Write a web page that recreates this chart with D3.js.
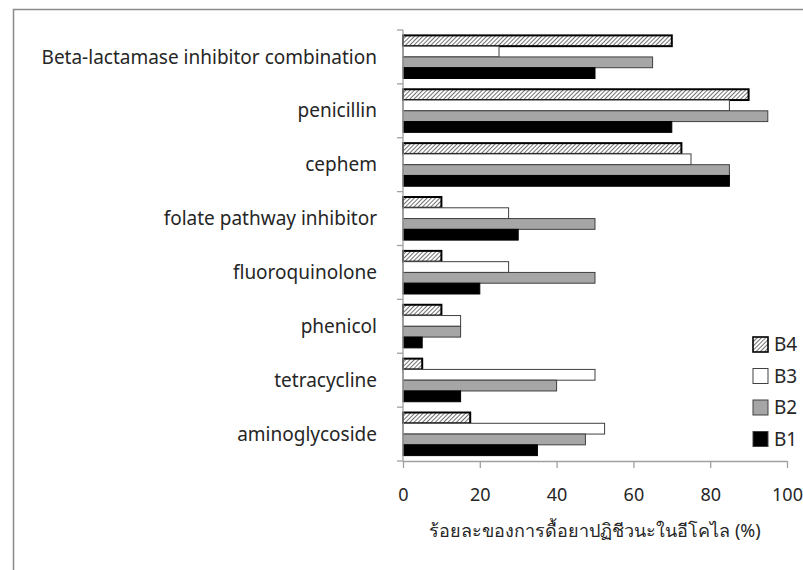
<!DOCTYPE html>
<html>
<head>
<meta charset="utf-8">
<script src="https://cdn.jsdelivr.net/npm/d3@7"></script>
<style>
  body { margin: 0; background: #fff; }
  text { font-family: "Noto Sans", "Open Sans", sans-serif; fill: #262626; }
</style>
</head>
<body>
<div id="chart"></div>
<script>
// categories top -> bottom
const categories = [
  "Beta-lactamase inhibitor combination",
  "penicillin",
  "cephem",
  "folate pathway inhibitor",
  "fluoroquinolone",
  "phenicol",
  "tetracycline",
  "aminoglycoside"
];
// series, drawn top -> bottom inside each group
const seriesNames = ["B4", "B3", "B2", "B1"];
const b4 = [70, 90, 72.5, 10, 10, 10, 5, 17.5];
const b3 = [25, 85, 75, 27.5, 27.5, 15, 50, 52.5];
const b2 = [65, 95, 85, 50, 50, 15, 40, 47.5];
const b1 = [50, 70, 85, 30, 20, 5, 15, 35];
const xTicks = [0, 20, 40, 60, 80, 100];
const xTitle = "ร้อยละของการดื้อยาปฏิชีวนะในอีโคไล (%)";

const seriesValues = { B4: b4, B3: b3, B2: b2, B1: b1 };
const fills = { B4: "url(#hatch)", B3: "#ffffff", B2: "#a6a6a6", B1: "#000000" };
const strokes = { B4: "#000", B3: "#404040", B2: "#404040", B1: "#000" };
const strokeW = { B4: 2, B3: 1, B2: 1, B1: 1 };

const W = 803, H = 570;
const plot = { left: 403, right: 787, top: 30, bottom: 461 };
const axisGrey = "#a0a0a0";

const svg = d3.select("#chart").append("svg")
  .attr("width", W)
  .attr("height", H);

const defs = svg.append("defs");
const pat = defs.append("pattern")
  .attr("id", "hatch")
  .attr("patternUnits", "userSpaceOnUse")
  .attr("width", 3)
  .attr("height", 3)
  .attr("patternTransform", "rotate(45)");
pat.append("rect").attr("width", 3).attr("height", 3).attr("fill", "#fff");
pat.append("line")
  .attr("x1", 0).attr("y1", 0).attr("x2", 0).attr("y2", 3)
  .attr("stroke", "#333").attr("stroke-width", 1.4);

// frame (only top + left visible in the crop)
svg.append("path")
  .attr("d", `M13.5,${H} V9.5 H${W}`)
  .attr("fill", "none")
  .attr("stroke", "#8a8a8a")
  .attr("stroke-width", 1.5);

const x = d3.scaleLinear().domain([0, 100]).range([plot.left, plot.right]);
const y = d3.scaleBand().domain(categories).range([plot.top, plot.bottom]).padding(0);
const inner = d3.scaleBand().domain(seriesNames)
  .range([y.bandwidth() * 0.1, y.bandwidth() * 0.9]).padding(0);

// bars
const groups = svg.append("g").selectAll("g")
  .data(categories)
  .join("g")
  .attr("transform", c => `translate(0,${y(c)})`);

groups.selectAll("rect")
  .data((c, i) => seriesNames.map(s => ({ s, v: seriesValues[s][i] })))
  .join("rect")
  .attr("x", x(0))
  .attr("y", d => inner(d.s))
  .attr("width", d => x(d.v) - x(0))
  .attr("height", inner.bandwidth())
  .attr("fill", d => fills[d.s])
  .attr("stroke", d => strokes[d.s])
  .attr("stroke-width", d => strokeW[d.s]);

// y axis: line + ticks at category boundaries
const yAxis = svg.append("g");
yAxis.append("line")
  .attr("x1", x(0)).attr("x2", x(0))
  .attr("y1", plot.top).attr("y2", plot.bottom)
  .attr("stroke", axisGrey).attr("stroke-width", 1.3);
yAxis.selectAll(".tk")
  .data(categories.map(c => y(c)).concat([plot.bottom]))
  .join("line")
  .attr("x1", x(0) - 6).attr("x2", x(0))
  .attr("y1", d => d).attr("y2", d => d)
  .attr("stroke", axisGrey).attr("stroke-width", 1.3);
yAxis.selectAll("text")
  .data(categories)
  .join("text")
  .attr("x", 377)
  .attr("y", c => y(c) + y.bandwidth() / 2)
  .attr("dy", "0.35em")
  .attr("text-anchor", "end")
  .attr("font-size", 19)
  .text(c => c);

// x axis
const xAxis = svg.append("g")
  .attr("transform", `translate(0,${plot.bottom})`)
  .call(d3.axisBottom(x).tickValues(xTicks).tickSize(7).tickPadding(20).tickSizeOuter(0));
xAxis.select(".domain").attr("stroke", axisGrey).attr("stroke-width", 1.3);
xAxis.selectAll(".tick line").attr("stroke", axisGrey).attr("stroke-width", 1.3);
xAxis.selectAll(".tick text")
  .attr("font-size", 18)
  .attr("font-family", "Noto Sans, sans-serif")
  .attr("fill", "#262626");

svg.append("text")
  .attr("x", (plot.left + plot.right) / 2)
  .attr("y", 531)
  .attr("dy", "0.35em")
  .attr("text-anchor", "middle")
  .attr("font-size", 18)
  .text(xTitle);

// legend (B4 top -> B1 bottom)
const legend = svg.append("g").attr("transform", "translate(753,337)");
const li = legend.selectAll("g")
  .data(seriesNames)
  .join("g")
  .attr("transform", (d, i) => `translate(0,${i * 31.5})`);
li.append("rect")
  .attr("width", 15).attr("height", 15)
  .attr("fill", d => fills[d])
  .attr("stroke", d => d === "B4" ? "#000" : "#404040")
  .attr("stroke-width", d => d === "B4" ? 1.6 : 1);
li.append("text")
  .attr("x", 21)
  .attr("y", 7.5)
  .attr("dy", "0.36em")
  .attr("font-size", 19)
  .text(d => d);
</script>
</body>
</html>
